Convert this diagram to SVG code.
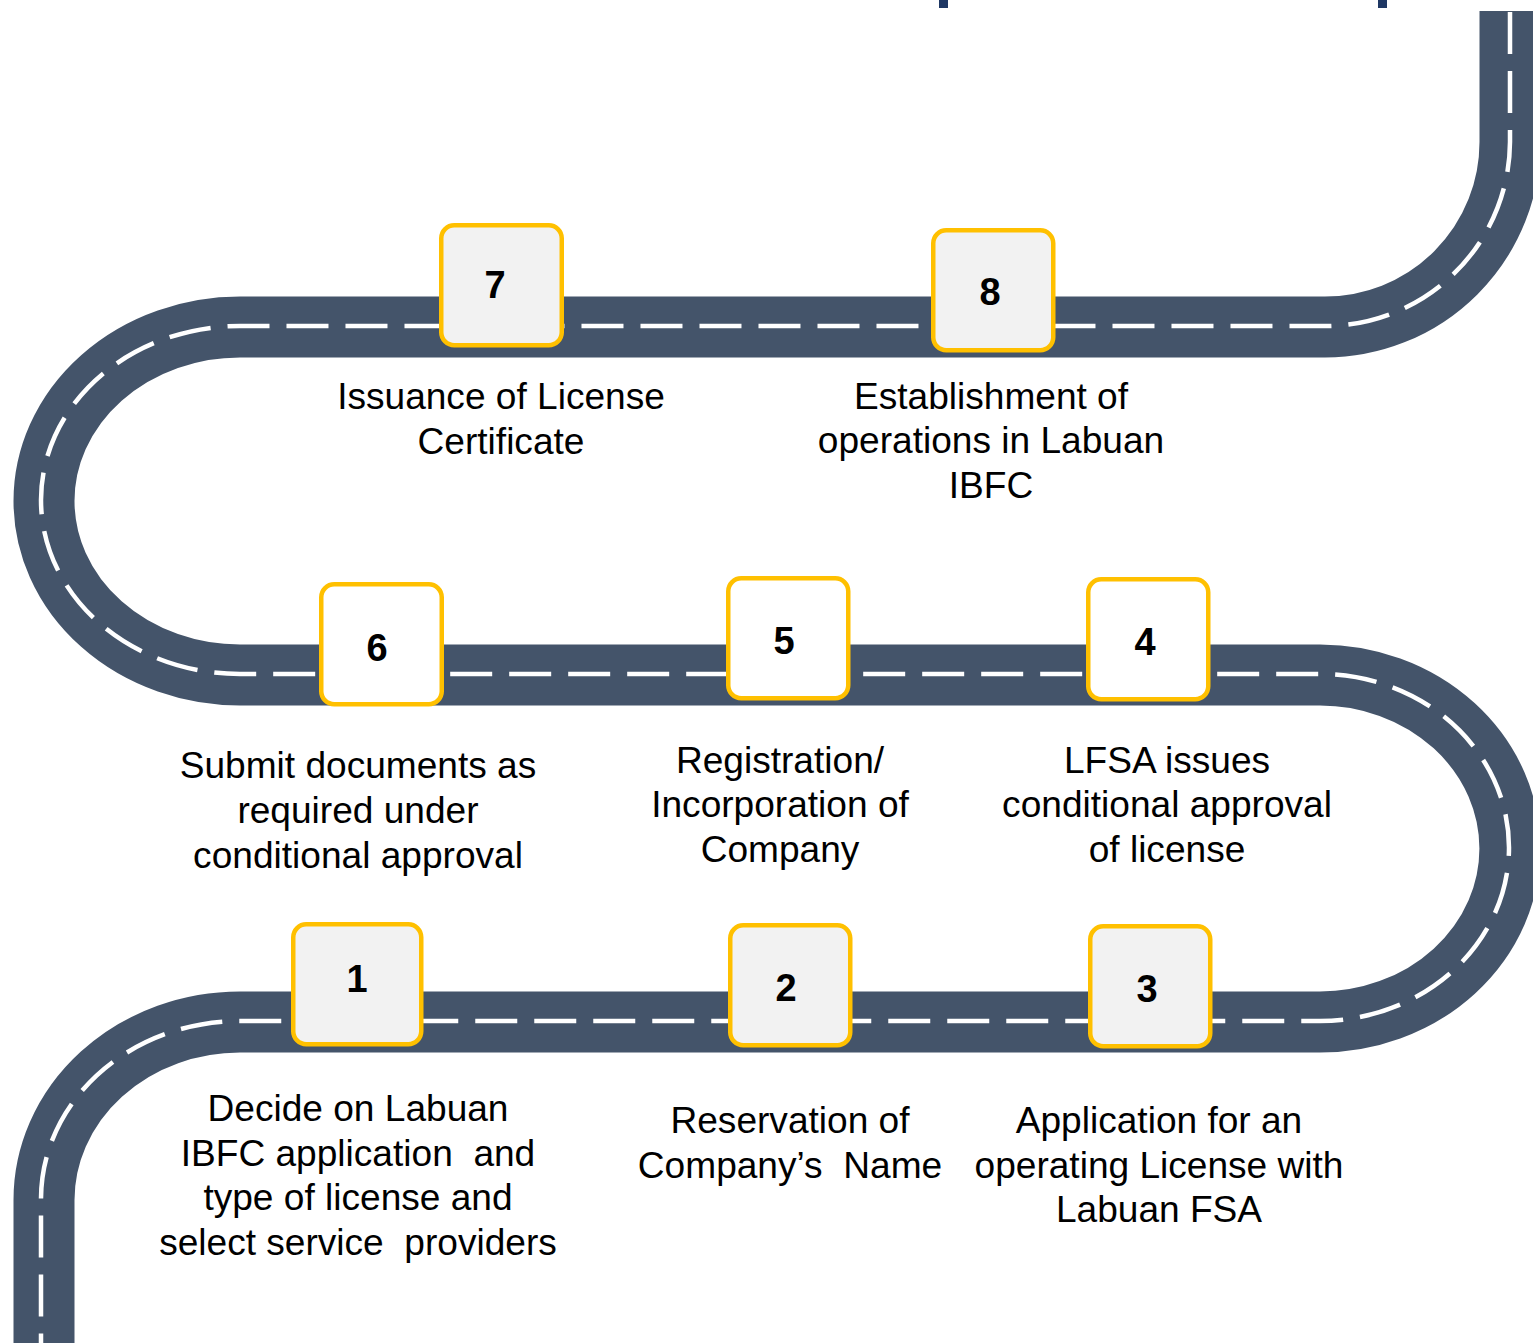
<svg xmlns="http://www.w3.org/2000/svg" width="1533" height="1343" viewBox="0 0 1533 1343">
<style>
.road{fill:none;stroke:#44546A;stroke-width:61}
.lane{fill:none;stroke:#FFFFFF;stroke-width:4.5;stroke-dasharray:42 17}
.box{stroke:#FFC000;stroke-width:4.5;fill:#F2F2F2}
.box.w{fill:#FFFFFF}
.num{font-family:"Liberation Sans",Arial,sans-serif;font-weight:bold;font-size:38px;fill:#000;text-anchor:middle}
.lbl{font-family:"Liberation Sans",Arial,sans-serif;font-size:37.1px;fill:#000;text-anchor:middle}
</style>
<rect width="1533" height="1343" fill="#FFFFFF"/>
<rect x="939" y="0" width="9" height="8" fill="#1F3864"/>
<rect x="1378" y="0" width="9" height="8" fill="#1F3864"/>
<g id="connectors">
<path class="road" d="M1510,11 V142 A185,185 0 0 1 1325,327 H240 A196,174 0 0 0 240,675 H1320 A190,173.5 0 0 1 1320,1022 H240 A196,178 0 0 0 44,1200 V1350"/>
<path class="lane" d="M1510,12 V142 A185,185 0 0 1 1325,326 H240 A199,174 0 0 0 240,674 H1320 A189,173.5 0 0 1 1320,1021 H240 A199,178 0 0 0 41,1199 V1350"/>
</g>
<g id="step7">
<rect class="box" x="441.25" y="225.25" width="120.5" height="120" rx="13"/>
<text class="num" x="495" y="298">7</text>
<text class="lbl" x="501" y="409">Issuance of License</text>
<text class="lbl" x="501" y="454">Certificate</text>
</g>
<g id="step8">
<rect class="box" x="933.25" y="230.25" width="120" height="120" rx="13"/>
<text class="num" x="990" y="305">8</text>
<text class="lbl" x="991" y="409">Establishment of</text>
<text class="lbl" x="991" y="453">operations in Labuan</text>
<text class="lbl" x="991" y="498">IBFC</text>
</g>
<g id="step6">
<rect class="box w" x="321.25" y="584.25" width="120.5" height="120" rx="13"/>
<text class="num" x="377" y="661">6</text>
<text class="lbl" x="358" y="778">Submit documents as</text>
<text class="lbl" x="358" y="823">required under</text>
<text class="lbl" x="358" y="868">conditional approval</text>
</g>
<g id="step5">
<rect class="box w" x="728.25" y="578.25" width="120" height="120" rx="13"/>
<text class="num" x="784" y="654">5</text>
<text class="lbl" x="780" y="773">Registration/</text>
<text class="lbl" x="780" y="817">Incorporation of</text>
<text class="lbl" x="780" y="862">Company</text>
</g>
<g id="step4">
<rect class="box w" x="1088.25" y="579.25" width="120" height="120" rx="13"/>
<text class="num" x="1145" y="655">4</text>
<text class="lbl" x="1167" y="773">LFSA issues</text>
<text class="lbl" x="1167" y="817">conditional approval</text>
<text class="lbl" x="1167" y="862">of license</text>
</g>
<g id="step1">
<rect class="box" x="293.25" y="924.25" width="128" height="120" rx="13"/>
<text class="num" x="357" y="992">1</text>
<text class="lbl" x="358" y="1121">Decide on Labuan</text>
<text class="lbl" x="358" y="1166" xml:space="preserve">IBFC application  and</text>
<text class="lbl" x="358" y="1210">type of license and</text>
<text class="lbl" x="358" y="1255" xml:space="preserve">select service  providers</text>
</g>
<g id="step2">
<rect class="box" x="730.25" y="925.25" width="120" height="120" rx="13"/>
<text class="num" x="786" y="1001">2</text>
<text class="lbl" x="790" y="1133">Reservation of</text>
<text class="lbl" x="790" y="1178" xml:space="preserve">Company’s  Name</text>
</g>
<g id="step3">
<rect class="box" x="1090.25" y="926.25" width="120" height="120" rx="13"/>
<text class="num" x="1147" y="1002">3</text>
<text class="lbl" x="1159" y="1133">Application for an</text>
<text class="lbl" x="1159" y="1178">operating License with</text>
<text class="lbl" x="1159" y="1222">Labuan FSA</text>
</g>
</svg>
